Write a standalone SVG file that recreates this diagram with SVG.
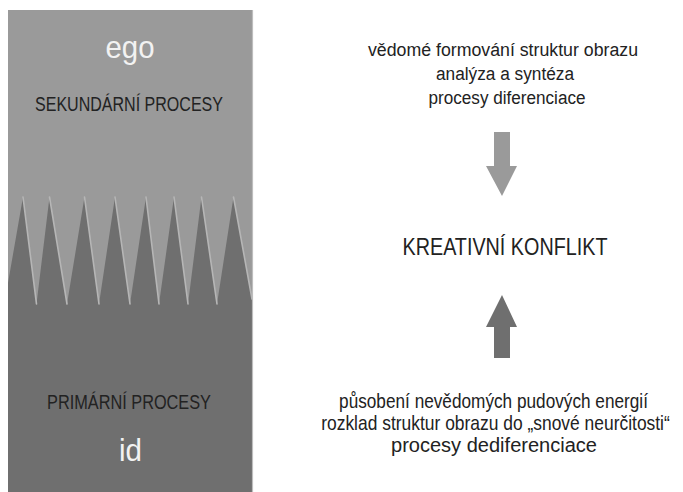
<svg xmlns="http://www.w3.org/2000/svg" width="683" height="492" viewBox="0 0 683 492">
  <style>
    .t { font-family: "Liberation Sans", Arial, sans-serif; text-anchor: middle; }
    .dark { fill: #222222; }
    .light { fill: #f2f2f2; }
    .ridge { stroke: #b6b6b6; stroke-width: 1.6; fill: none; stroke-linecap: round; }
  </style>

  <rect width="683" height="492" fill="#ffffff"/>

  <!-- left column: ego above, id below, toothed boundary between -->
  <g id="psyche-column">
    <rect x="8" y="10" width="244" height="482" fill="#9a9a9a"/>
    <polygon fill="#6f6f6f" points="8,283 23,197 36.5,304 49.5,197 67,304 84.5,197 99,304 115,197 130,304 146,197 159,304 174,197 188,304 201.5,197 217,304 233.5,197 252,299 252,492 8,492"/>
    <g class="ridge">
      <line x1="23" y1="197" x2="36.5" y2="304"/>
      <line x1="49.5" y1="197" x2="67" y2="304"/>
      <line x1="84.5" y1="197" x2="99" y2="304"/>
      <line x1="115" y1="197" x2="130" y2="304"/>
      <line x1="146" y1="197" x2="159" y2="304"/>
      <line x1="174" y1="197" x2="188" y2="304"/>
      <line x1="201.5" y1="197" x2="217" y2="304"/>
      <line x1="233.5" y1="197" x2="252" y2="299"/>
    </g>
    <line x1="252.5" y1="10" x2="252.5" y2="492" stroke="#bdbdbd" stroke-width="1.2"/>
  </g>

  <g id="ego">
    <text class="t light" x="130" y="58" font-size="32" textLength="49" lengthAdjust="spacingAndGlyphs">ego</text>
    <text class="t dark" x="129" y="111" font-size="20" textLength="188" lengthAdjust="spacingAndGlyphs">SEKUNDÁRNÍ PROCESY</text>
  </g>

  <g id="id">
    <text class="t dark" x="129" y="409" font-size="20" textLength="164" lengthAdjust="spacingAndGlyphs">PRIMÁRNÍ PROCESY</text>
    <text class="t light" x="130.5" y="461" font-size="31" textLength="23" lengthAdjust="spacingAndGlyphs">id</text>
  </g>

  <!-- right column -->
  <g id="conscious-processes">
    <text class="t dark" x="503" y="56" font-size="18" textLength="270" lengthAdjust="spacingAndGlyphs">vědomé formování struktur obrazu</text>
    <text class="t dark" x="505" y="80" font-size="18" textLength="138" lengthAdjust="spacingAndGlyphs">analýza a syntéza</text>
    <text class="t dark" x="507" y="104" font-size="18" textLength="157" lengthAdjust="spacingAndGlyphs">procesy diferenciace</text>
  </g>

  <g id="creative-conflict">
    <text class="t dark" x="505" y="255" font-size="23.5" textLength="205" lengthAdjust="spacingAndGlyphs">KREATIVNÍ KONFLIKT</text>
  </g>

  <!-- longer lines use a horizontal squeeze so the glyphs stay narrow -->
  <g id="unconscious-processes">
    <g transform="translate(493.5,408) scale(0.88,1)">
      <text class="t dark" x="0" y="0" font-size="19.5" textLength="351" lengthAdjust="spacingAndGlyphs">působení nevědomých pudových energií</text>
    </g>
    <g transform="translate(495.5,430) scale(0.83,1)">
      <text class="t dark" x="0" y="0" font-size="19.5" textLength="420" lengthAdjust="spacingAndGlyphs">rozklad struktur obrazu do „snové neurčitosti“</text>
    </g>
    <text class="t dark" x="494" y="452" font-size="19.5" textLength="206" lengthAdjust="spacingAndGlyphs">procesy dediferenciace</text>
  </g>

  <!-- block arrows pointing into the conflict -->
  <g id="connectors">
    <polygon fill="#9a9a9a" points="494,132 510,132 510,166 517,166 502,196 486,166 494,166"/>
    <polygon fill="#6f6f6f" points="502,295 517,327 510,327 510,358 494,358 494,327 486,327"/>
  </g>
</svg>
